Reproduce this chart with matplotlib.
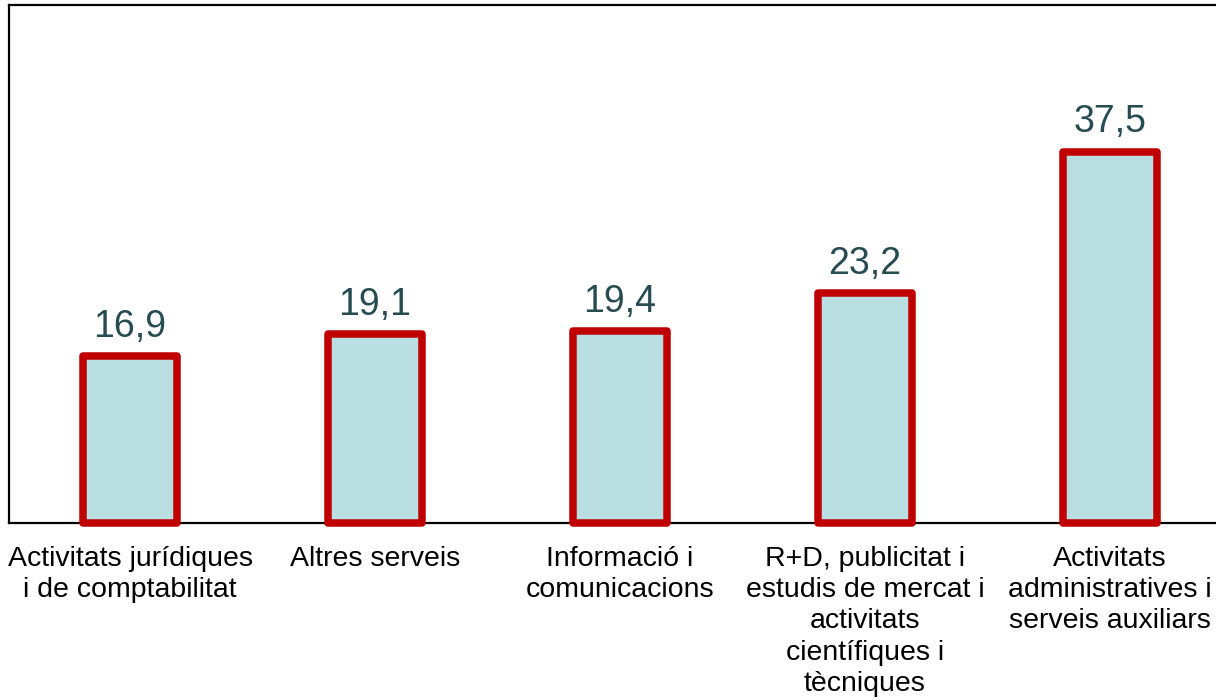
import matplotlib.pyplot as plt

categories = [
    "Activitats jurídiques\ni de comptabilitat",
    "Altres serveis",
    "Informació i\ncomunicacions",
    "R+D, publicitat i\nestudis de mercat i\nactivitats\ncientífiques i\ntècniques",
    "Activitats\nadministratives i\nserveis auxiliars",
]
values = [16.9, 19.1, 19.4, 23.2, 37.5]
value_labels = ["16,9", "19,1", "19,4", "23,2", "37,5"]

plt.rcParams['font.family'] = ['Liberation Sans', 'DejaVu Sans']

fig = plt.figure(figsize=(12.16, 7), dpi=100)
x_right = 4.5
px_per_unit = 245
left_px = 9
right_px = 130 + x_right * px_per_unit
ax = fig.add_axes([left_px / 1216, 177 / 700, (right_px - left_px) / 1216, 518 / 700])

x = range(len(values))
bars = ax.bar(x, values, width=0.385, color='#B9DFE3', edgecolor='#C00000',
              linewidth=5.4, zorder=3, clip_on=False)
for b in bars:
    b.set_joinstyle('round')

for xi, v, lab in zip(x, values, value_labels):
    ax.annotate(lab, (xi, v), xytext=(0, 8), textcoords='offset points',
                ha='center', va='bottom', fontsize=27, color='#264B50')

ax.set_xlim(-0.494, x_right)
ax.set_ylim(0, 52.3)
ax.set_xticks(list(x))
ax.set_xticklabels(categories, fontsize=20.5, linespacing=1.26, ha='center', va='top')
ax.tick_params(axis='x', length=0, pad=16.5)
ax.set_yticks([])
for s in ['left', 'top', 'bottom']:
    ax.spines[s].set_linewidth(1.6)
ax.spines['right'].set_visible(False)

fig.savefig('out.png', dpi=100)
